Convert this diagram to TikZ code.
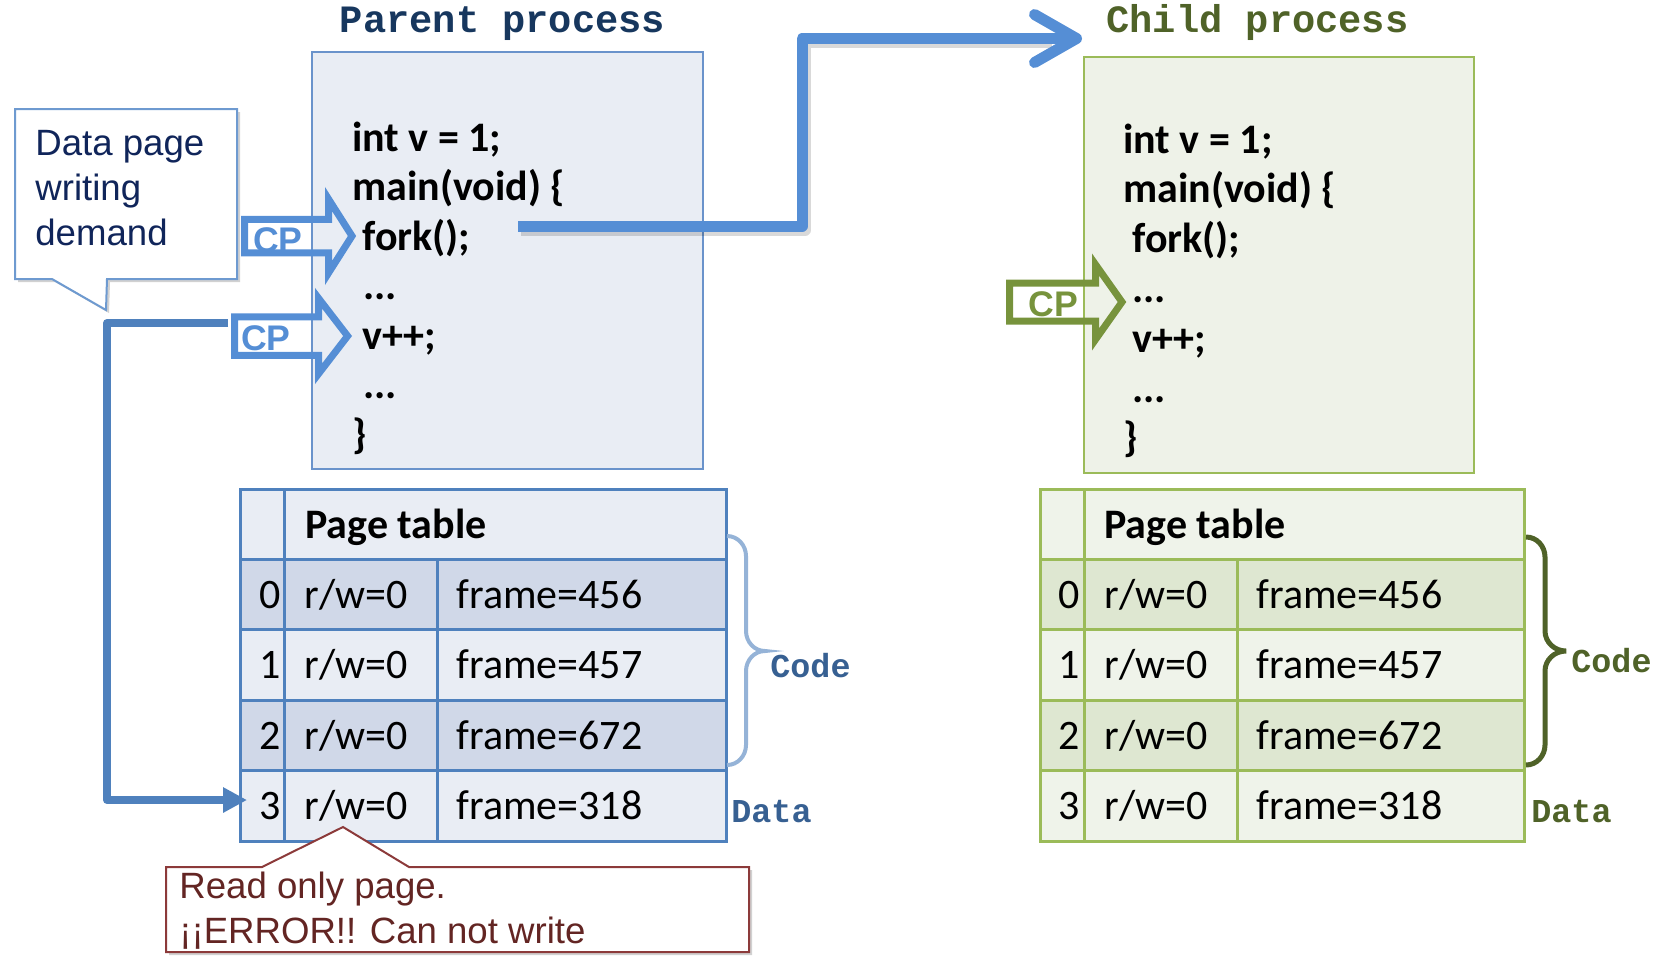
\documentclass[tikz,border=0pt]{standalone}
\usepackage{fontspec}
\setmainfont{Carlito}
\newfontfamily\mySans{Liberation Sans}
\newfontfamily\myMono{Liberation Mono}
\usetikzlibrary{arrows.meta}
\definecolor{pblue}{HTML}{558ED5}
\definecolor{pborder}{HTML}{4F81BD}
\definecolor{pboxborder}{HTML}{6A93CB}
\definecolor{pfill}{HTML}{E9EDF4}
\definecolor{pdark}{HTML}{D0D8E8}
\definecolor{ptitle}{HTML}{17375E}
\definecolor{plabel}{HTML}{376092}
\definecolor{pbrace}{HTML}{95B3D7}
\definecolor{gborder}{HTML}{9BBB59}
\definecolor{gfill}{HTML}{EFF3EA}
\definecolor{gboxfill}{HTML}{EEF2E8}
\definecolor{gdark}{HTML}{DEE7D1}
\definecolor{gtitle}{HTML}{4F6228}
\definecolor{garrow}{HTML}{77933C}
\definecolor{navy}{HTML}{10255A}
\definecolor{errtext}{HTML}{632523}
\definecolor{errline}{HTML}{8C3A3A}
\definecolor{calline}{HTML}{6E9AD0}
\begin{document}
\begin{tikzpicture}[x=0.5pt,y=-0.5pt,
  code/.style={anchor=base west, inner sep=0pt, font=\fontsize{21}{25}\selectfont\bfseries},
  cell/.style={anchor=base west, inner sep=0pt, font=\fontsize{21}{25}\selectfont},
  idx/.style={anchor=base east, inner sep=0pt, font=\fontsize{21}{25}\selectfont},
  hdr/.style={anchor=base west, inner sep=0pt, font=\fontsize{21}{25}\selectfont\bfseries},
  ttl/.style={anchor=base, inner sep=0pt, font=\myMono\fontsize{19.35}{23}\selectfont\bfseries},
  seglabel/.style={anchor=base west, inner sep=0pt, font=\myMono\fontsize{16.7}{20}\selectfont\bfseries},
  cptext/.style={anchor=base, inner sep=0pt, font=\mySans\fontsize{17.8}{20}\selectfont\bfseries},
  caltext/.style={anchor=base west, inner sep=0pt, font=\mySans\fontsize{18.3}{22}\selectfont},
  cparrow/.style={line width=3.5pt, line join=miter},
  ptab/.style={draw=pborder, line width=1.5pt},
  gtab/.style={draw=gborder, line width=1.5pt},
  shadowpath/.style={fill=black, opacity=0.18, draw=none}
]
\useasboundingbox (0,0) rectangle (1676,966);

% process boxes
\draw[draw=pboxborder, line width=1pt, fill=pfill] (312,52) rectangle (703,469);
\draw[draw=gborder, line width=1pt, fill=gboxfill] (1084,57) rectangle (1474,473);

% titles
\node[ttl, text=ptitle] (ptitle) at (502.5,32) {Parent process};
\node[ttl, text=gtitle] (ctitle) at (1257.5,32) {Child process};

% parent code
\node[code] (p1) at (352,151) {int v = 1;};
\node[code] (p2) at (352,200.5) {main(void) \{};
\node[code] (p3) at (362,250) {fork();};
\node[code] (p4) at (363,299.5) {...};
\node[code] (p5) at (362,349) {v++;};
\node[code] (p6) at (363,398.5) {...};
\node[code] (p7) at (352,448) {\}};

% child code
\node[code] (c1) at (1123,153) {int v = 1;};
\node[code] (c2) at (1123,202.8) {main(void) \{};
\node[code] (c3) at (1132,252.6) {fork();};
\node[code] (c4) at (1132,302.4) {...};
\node[code] (c5) at (1132,352.2) {v++;};
\node[code] (c6) at (1132,402) {...};
\node[code] (c7) at (1123,451.8) {\}};

% parent page table
\fill[pfill] (240.5,489) rectangle (726,841);
\fill[pdark] (240.5,559.4) rectangle (726,629.8);
\fill[pdark] (240.5,700.2) rectangle (726,770.6);
\draw[ptab] (240.5,489) rectangle (726,841);
\draw[ptab] (240.5,559.4) -- (726,559.4) (240.5,629.8) -- (726,629.8)
  (240.5,700.2) -- (726,700.2) (240.5,770.6) -- (726,770.6)
  (284,489) -- (284,841) (437,559.4) -- (437,841);
\node[hdr] (phdr) at (305,538) {Page table};
\node[idx] (pi0) at (281,608) {0};
\node[idx] (pi1) at (281,678) {1};
\node[idx] (pi2) at (281,749) {2};
\node[idx] (pi3) at (281,819) {3};
\node[cell] (pr0) at (304,608) {r/w=0};
\node[cell] (pr1) at (304,678) {r/w=0};
\node[cell] (pr2) at (304,749) {r/w=0};
\node[cell] (pr3) at (304,819) {r/w=0};
\node[cell] (pf0) at (456,608) {frame=456};
\node[cell] (pf1) at (456,678) {frame=457};
\node[cell] (pf2) at (456,749) {frame=672};
\node[cell] (pf3) at (456,819) {frame=318};

% child page table
\fill[gfill] (1040,489) rectangle (1524,841);
\fill[gdark] (1040,559.4) rectangle (1524,629.8);
\fill[gdark] (1040,700.2) rectangle (1524,770.6);
\draw[gtab] (1040,489) rectangle (1524,841);
\draw[gtab] (1040,559.4) -- (1524,559.4) (1040,629.8) -- (1524,629.8)
  (1040,700.2) -- (1524,700.2) (1040,770.6) -- (1524,770.6)
  (1084,489) -- (1084,841) (1237,559.4) -- (1237,841);
\node[hdr] (chdr) at (1104,538) {Page table};
\node[idx] (ci0) at (1080,608) {0};
\node[idx] (ci1) at (1080,678) {1};
\node[idx] (ci2) at (1080,749) {2};
\node[idx] (ci3) at (1080,819) {3};
\node[cell] (cr0) at (1104,608) {r/w=0};
\node[cell] (cr1) at (1104,678) {r/w=0};
\node[cell] (cr2) at (1104,749) {r/w=0};
\node[cell] (cr3) at (1104,819) {r/w=0};
\node[cell] (cf0) at (1256,608) {frame=456};
\node[cell] (cf1) at (1256,678) {frame=457};
\node[cell] (cf2) at (1256,749) {frame=672};
\node[cell] (cf3) at (1256,819) {frame=318};

% braces
\draw[pbrace, line width=2pt] (727,536) to[out=0,in=90] (746,556) -- (746,631)
  to[out=270,in=180] (765,651) to[out=180,in=90] (746,671) -- (746,745)
  to[out=270,in=0] (727,765);
\draw[gtitle, line width=2.5pt] (1526,537) to[out=0,in=90] (1545,557) -- (1545,631)
  to[out=270,in=180] (1566,651) to[out=180,in=90] (1545,671) -- (1545,745)
  to[out=270,in=0] (1526,765);
\node[seglabel, text=plabel] (pcode) at (770,677) {Code};
\node[seglabel, text=plabel] (pdata) at (731,822) {Data};
\node[seglabel, text=gtitle] (ccode) at (1571,672) {Code};
\node[seglabel, text=gtitle] (cdata) at (1531,822) {Data};

% CP arrows
\draw[cparrow, pblue] (244.5,219.25) -- (328.5,219.25) -- (328.5,199) -- (352,236)
  -- (328.5,273) -- (328.5,252.75) -- (244.5,252.75) -- cycle;
\node[cptext, text=pblue] (cp1) at (278,252) {CP};
\draw[cparrow, pblue] (234.5,316.75) -- (318.5,316.75) -- (318.5,298.2) -- (347.6,336)
  -- (318.5,373.8) -- (318.5,355.25) -- (234.5,355.25) -- cycle;
\node[cptext, text=pblue] (cp2) at (266,350) {CP};
\draw[cparrow, garrow] (1009.5,283) -- (1095.5,283) -- (1095.5,264.5) -- (1122,302)
  -- (1095.5,339.5) -- (1095.5,321) -- (1009.5,321) -- cycle;
\node[cptext, text=garrow] (cp3) at (1053.5,316) {CP};

% fork connector
\coordinate (forkstart) at (518,226);
\coordinate (forkbend) at (802,38.5);
\coordinate (forkend) at (1082,38.5);
\draw[black, opacity=0.15, line width=5.5pt, line join=round] ([shift={(3,4)}]forkstart) -| ([shift={(3,4)}]forkbend) -- ([shift={(-30,4)}]forkend);
\draw[pblue, line width=5.5pt, line join=round,
  -{Straight Barb[length=21pt,width=24pt,round]}] (forkstart) -| (forkbend) -- (forkend);

% write connector
\coordinate (wstart) at (228,323);
\coordinate (wbend) at (107,800);
\coordinate (wend) at (247,800);
\draw[pborder, line width=4pt, line join=round, -{Triangle[length=12pt,width=12pt]}]
  (wstart) -| (wbend) -- (wend);

% data page callout
\fill[shadowpath] (18,112) -- (240,112) -- (240,282) -- (110,282) -- (109,313) -- (55,282) -- (18,282) -- cycle;
\draw[calline, line width=1pt, fill=white] (15,109) -- (237,109) -- (237,279) -- (107,279)
  -- (106,310) -- (52,279) -- (15,279) -- cycle;
\node[caltext, text=navy] (dp1) at (35,155) {Data page};
\node[caltext, text=navy] (dp2) at (35,200) {writing};
\node[caltext, text=navy] (dp3) at (35,245) {demand};

% error callout
\fill[shadowpath] (169,870) -- (265,870) -- (346,830) -- (412,870) -- (752,870) -- (752,955) -- (169,955) -- cycle;
\draw[errline, line width=1pt, fill=white] (166,867) -- (262,867) -- (343,827) -- (409,867)
  -- (749,867) -- (749,952) -- (166,952) -- cycle;
\node[caltext, text=errtext] (e1) at (179,898) {Read only page.};
\node[caltext, text=errtext] (e2) at (179,943) {¡¡ERROR!! Can not write};
\end{tikzpicture}
\end{document}
